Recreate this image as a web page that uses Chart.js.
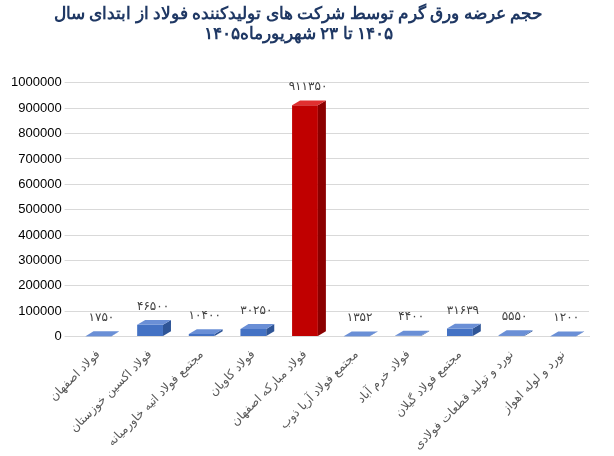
<!DOCTYPE html>
<html><head><meta charset="utf-8">
<script src="https://cdn.jsdelivr.net/npm/chart.js@4"></script>
<style>body{margin:0;background:#fff}#w{width:614px;height:456px}</style>
</head><body><div id="w"><canvas id="c"></canvas></div>
<script>
const categories=["فولاد اصفهان","فولاد اکسین خوزستان","مجتمع فولاد اتیه خاورمیانه","فولاد کاویان","فولاد مبارکه اصفهان","مجتمع فولاد آریا ذوب","فولاد خرم آباد","مجتمع فولاد گیلان","نورد و تولید قطعات فولادی","نورد و لوله اهواز"];
const values=[1750,46500,10400,30250,911350,1352,4400,31639,5550,1200];
const valueLabels=["۱۷۵۰","۴۶۵۰۰","۱۰۴۰۰","۳۰۲۵۰","۹۱۱۳۵۰","۱۳۵۲","۴۴۰۰","۳۱۶۳۹","۵۵۵۰","۱۲۰۰"];
const colors=values.map(v=>v>500000?'#C00000':'#4472C4');
const sides=values.map(v=>v>500000?'#8B0000':'#2F5597');
const tops=values.map(v=>v>500000?'#E03030':'#6A8FD6');
const D=8;
const p3d={id:'p3d',afterDatasetsDraw(ch){const ctx=ch.ctx;const m=ch.getDatasetMeta(0);
m.data.forEach((b,i)=>{const l=b.x-b.width/2,r=b.x+b.width/2,t=b.y,bt=b.base;
ctx.fillStyle=sides[i];ctx.beginPath();ctx.moveTo(r,bt);ctx.lineTo(r+D,bt-D*0.6);ctx.lineTo(r+D,t-D*0.6);ctx.lineTo(r,t);ctx.fill();
ctx.fillStyle=tops[i];ctx.beginPath();ctx.moveTo(l,t);ctx.lineTo(l+D,t-D*0.6);ctx.lineTo(r+D,t-D*0.6);ctx.lineTo(r,t);ctx.fill();
ctx.fillStyle='#404040';ctx.font='12px "DejaVu Sans"';ctx.textAlign='center';ctx.fillText(valueLabels[i],b.x+3,t-15);});}};
new Chart(document.getElementById('c'),{type:'bar',data:{labels:categories,datasets:[{data:values,backgroundColor:colors,barPercentage:0.5,categoryPercentage:1}]},
options:{responsive:true,maintainAspectRatio:false,animation:false,layout:{padding:{left:8,right:25,top:0,bottom:0}},
plugins:{legend:{display:false},tooltip:{enabled:false},title:{display:true,text:["\u202Bحجم عرضه ورق گرم توسط شرکت های تولیدکننده فولاد از ابتدای سال\u202C","\u202B۱۴۰۵ تا ۲۳ شهریورماه۱۴۰۵\u202C"],color:'#1F3864',font:{size:17,weight:'bold',family:'"Noto Sans"'},padding:{top:4,bottom:38},lineHeight:1.9}},
scales:{y:{min:0,max:1000000,ticks:{stepSize:100000,color:'#000',font:{size:13,family:'"Liberation Sans"'},callback:v=>String(v)},grid:{color:'#D9D9D9'},border:{display:false}},
x:{ticks:{minRotation:45,maxRotation:45,color:'#595959',font:{size:12,family:'"DejaVu Sans"'}},grid:{display:false},border:{color:'#D9D9D9'}}}},plugins:[p3d]});
</script></body></html>
